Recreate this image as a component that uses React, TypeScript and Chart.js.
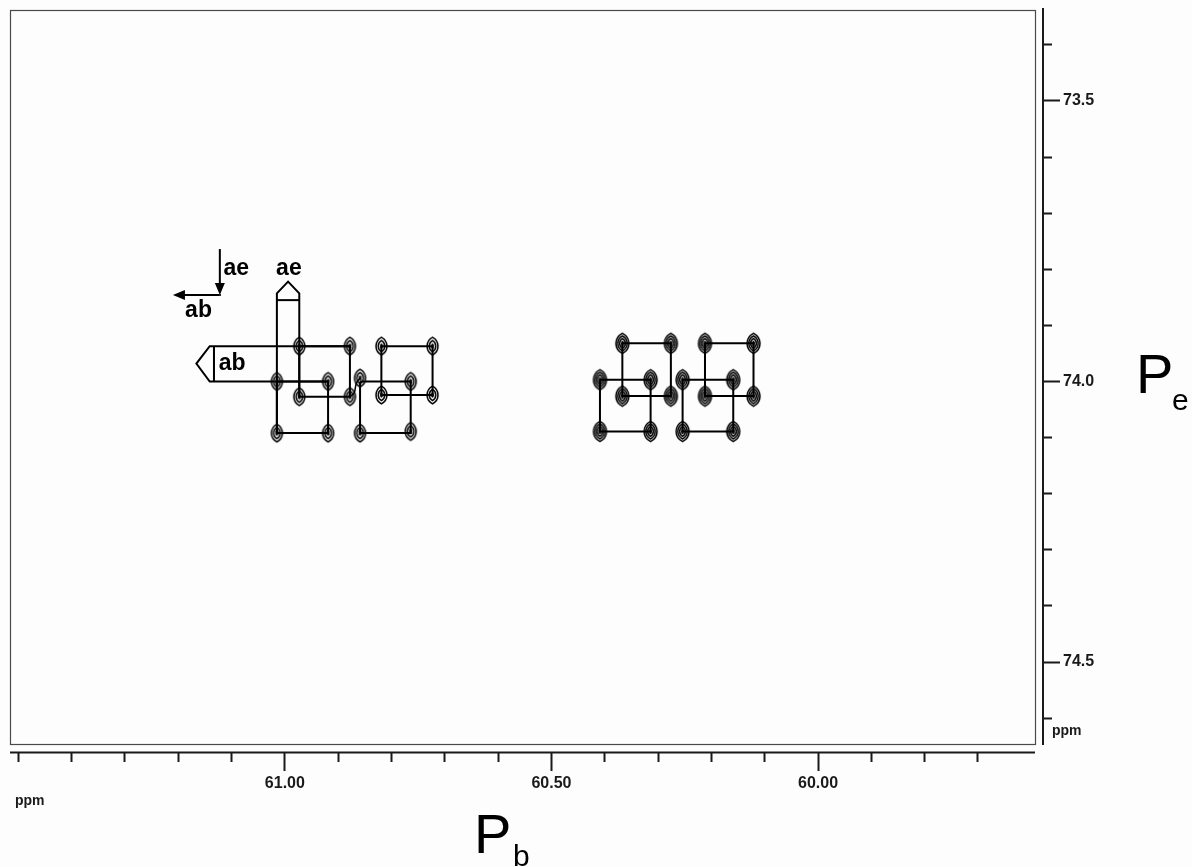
import React, { useEffect, useRef } from 'react';
import { Chart, registerables } from 'chart.js';

Chart.register(...registerables);

// ---- axis ranges and ticks (ppm) ----
const xRange = [59.593, 61.5156];
const yRange = [73.338, 74.646];
const xTicks = [61.5, 61.4, 61.3, 61.2, 61.1, 61.0, 60.9, 60.8, 60.7, 60.6, 60.5, 60.4, 60.3, 60.2, 60.1, 60.0, 59.9, 59.8, 59.7];
const xMajorTicks = [61.0, 60.5, 60.0];
const yTicks = [73.4, 73.5, 73.6, 73.7, 73.8, 73.9, 74.0, 74.1, 74.2, 74.3, 74.4, 74.5, 74.6];
const yMajorTicks = [73.5, 74.0, 74.5];

// ---- cross peaks: left cluster ----
const leftPeaksX = [60.973, 60.878, 60.819, 60.723, 61.015, 60.919, 60.859, 60.764, 60.973, 60.878, 60.819, 60.723, 61.015, 60.919, 60.859, 60.764];
const leftPeaksY = [73.937, 73.937, 73.937, 73.937, 74.000, 74.000, 73.994, 74.000, 74.027, 74.027, 74.024, 74.024, 74.092, 74.092, 74.092, 74.089];

// ---- cross peaks: right cluster ----
const rightPeaksX = [60.367, 60.276, 60.212, 60.121, 60.409, 60.314, 60.254, 60.159, 60.367, 60.276, 60.212, 60.121, 60.409, 60.314, 60.254, 60.159];
const rightPeaksY = [73.932, 73.932, 73.932, 73.932, 73.997, 73.997, 73.997, 73.997, 74.026, 74.026, 74.026, 74.026, 74.089, 74.089, 74.089, 74.089];

// ---- connectivity squares [x1, x2, y1, y2] ----
const leftSquares = [
  [61.015, 60.919, 74.000, 74.092],
  [60.973, 60.878, 73.937, 74.027],
  [60.859, 60.764, 74.000, 74.092],
  [60.819, 60.723, 73.937, 74.024],
];
const rightSquares = [
  [60.409, 60.314, 73.997, 74.089],
  [60.367, 60.276, 73.932, 74.026],
  [60.254, 60.159, 73.997, 74.089],
  [60.212, 60.121, 73.932, 74.026],
];

// ---- "ab" / "ae" marker boxes ----
const abBoxX = [60.878, 61.141, 61.166, 61.141, 60.919];
const abBoxY = [73.937, 73.937, 73.968, 74.000, 74.000];
const abBarX = [61.133, 61.133];
const abBarY = [73.937, 74.000];
const aeBoxX = [61.015, 61.015, 60.994, 60.973, 60.973];
const aeBoxY = [74.092, 73.843, 73.822, 73.843, 74.027];
const aeBarX = [61.015, 60.973];
const aeBarY = [73.855, 73.855];
const squiggleX = [60.878, 60.870, 60.866, 60.859];
const squiggleY = [74.027, 74.020, 74.003, 73.994];

// ---- annotation texts and arrows ----
const noteTexts = ['ae', 'ab', 'ae', 'ab'];
const noteX = [61.091, 61.162, 60.9925, 61.099];
const noteY = [73.810, 73.8845, 73.810, 73.9795];
const arrowDownX = [61.122, 61.122];
const arrowDownY = [73.764, 73.846];
const arrowLeftX = [61.122, 61.21];
const arrowLeftY = [73.846, 73.846];

const isIn = (v: number, arr: number[]) => arr.some((a) => Math.abs(a - v) < 1e-6);

function lemon(ctx: CanvasRenderingContext2D, a: number, b: number) {
  ctx.beginPath();
  ctx.moveTo(0, -b);
  ctx.bezierCurveTo(a * 1.35, -b * 0.55, a * 1.35, b * 0.55, 0, b);
  ctx.bezierCurveTo(-a * 1.35, b * 0.55, -a * 1.35, -b * 0.55, 0, -b);
  ctx.closePath();
}

function makePeak(rings: number[][], lw: number): HTMLCanvasElement {
  const c = document.createElement('canvas');
  const maxA = rings[0][0];
  const maxB = rings[0][1];
  c.width = Math.ceil(maxA * 2 + 6);
  c.height = Math.ceil(maxB * 2 + 6);
  const ctx = c.getContext('2d')!;
  ctx.translate(c.width / 2, c.height / 2);
  ctx.strokeStyle = '#000';
  ctx.lineWidth = lw;
  rings.forEach(([a, b]) => {
    lemon(ctx, a, b);
    ctx.stroke();
  });
  ctx.fillStyle = '#000';
  ctx.beginPath();
  ctx.ellipse(0, 0, 1.4, 2.8, 0, 0, Math.PI * 2);
  ctx.fill();
  return c;
}

function squarePath(s: number[]) {
  const [x1, x2, y1, y2] = s;
  return [
    { x: x1, y: y1 },
    { x: x2, y: y1 },
    { x: x2, y: y2 },
    { x: x1, y: y2 },
    { x: x1, y: y1 },
  ];
}

const zip = (xs: number[], ys: number[]) => xs.map((x, i) => ({ x, y: ys[i] }));

export default function App() {
  const ref = useRef<HTMLCanvasElement>(null);

  useEffect(() => {
    if (!ref.current) return;
    const leftPeak = makePeak([[5.4, 8.8], [3.2, 5.6]], 1.5);
    const rightPeak = makePeak([[6.4, 10.2], [4.6, 7.5], [2.8, 4.8]], 1.5);

    const lineDs = (data: { x: number; y: number }[], width = 2, tension = 0) => ({
      data,
      showLine: true,
      borderColor: '#000',
      borderWidth: width,
      pointRadius: 0,
      pointHoverRadius: 0,
      tension,
      fill: false,
    });

    const datasets: any[] = [
      {
        data: zip(leftPeaksX, leftPeaksY),
        pointStyle: leftPeak,
        pointRadius: 6,
        showLine: false,
      },
      {
        data: zip(rightPeaksX, rightPeaksY),
        pointStyle: rightPeak,
        pointRadius: 7,
        showLine: false,
      },
      ...leftSquares.map((s) => lineDs(squarePath(s))),
      ...rightSquares.map((s) => lineDs(squarePath(s))),
      lineDs(zip(abBoxX, abBoxY)),
      lineDs(zip(abBarX, abBarY)),
      lineDs(zip(aeBoxX, aeBoxY)),
      lineDs(zip(aeBarX, aeBarY)),
      lineDs(zip(squiggleX, squiggleY), 1.5, 0.4),
    ];

    const decor = {
      id: 'decor',
      beforeDraw(chart: any) {
        const { ctx, width, height } = chart;
        ctx.save();
        ctx.fillStyle = '#fdfdfd';
        ctx.fillRect(0, 0, width, height);
        ctx.restore();
      },
      afterDatasetsDraw(chart: any) {
        const { ctx, chartArea: ca, scales } = chart;
        const sx = scales.x;
        const sy = scales.y;
        ctx.save();
        // annotation texts
        ctx.fillStyle = '#000';
        ctx.font = 'bold 23px "Liberation Sans", Arial, sans-serif';
        ctx.textAlign = 'center';
        ctx.textBaseline = 'alphabetic';
        noteTexts.forEach((t, i) => {
          ctx.fillText(t, sx.getPixelForValue(noteX[i]), sy.getPixelForValue(noteY[i]));
        });
        // arrows
        ctx.strokeStyle = '#000';
        ctx.lineWidth = 2;
        const drawArrow = (xs: number[], ys: number[]) => {
          const x0 = sx.getPixelForValue(xs[0]);
          const y0 = sy.getPixelForValue(ys[0]);
          const x1 = sx.getPixelForValue(xs[1]);
          const y1 = sy.getPixelForValue(ys[1]);
          const ang = Math.atan2(y1 - y0, x1 - x0);
          const hl = 12;
          const hw = 5;
          ctx.beginPath();
          ctx.moveTo(x0, y0);
          ctx.lineTo(x1 - Math.cos(ang) * hl * 0.8, y1 - Math.sin(ang) * hl * 0.8);
          ctx.stroke();
          ctx.beginPath();
          ctx.moveTo(x1, y1);
          ctx.lineTo(x1 - Math.cos(ang) * hl - Math.sin(ang) * hw, y1 - Math.sin(ang) * hl + Math.cos(ang) * hw);
          ctx.lineTo(x1 - Math.cos(ang) * hl + Math.sin(ang) * hw, y1 - Math.sin(ang) * hl - Math.cos(ang) * hw);
          ctx.closePath();
          ctx.fillStyle = '#000';
          ctx.fill();
        };
        drawArrow(arrowDownX, arrowDownY);
        ctx.beginPath();
        ctx.moveTo(sx.getPixelForValue(arrowDownX[1]) + 1, sy.getPixelForValue(arrowDownY[1]));
        ctx.lineTo(sx.getPixelForValue(arrowLeftX[0]), sy.getPixelForValue(arrowLeftY[0]));
        ctx.stroke();
        drawArrow(arrowLeftX, arrowLeftY);

        // frame
        ctx.strokeStyle = '#4a4a4a';
        ctx.lineWidth = 1.2;
        ctx.strokeRect(ca.left + 0.5, ca.top + 0.5, ca.right - ca.left, ca.bottom - ca.top);
        // axis lines (offset from frame)
        ctx.strokeStyle = '#1a1a1a';
        ctx.lineWidth = 2;
        ctx.beginPath();
        ctx.moveTo(ca.right + 8, ca.top - 2);
        ctx.lineTo(ca.right + 8, ca.bottom + 1);
        ctx.moveTo(ca.left, ca.bottom + 8.5);
        ctx.lineTo(ca.right, ca.bottom + 8.5);
        ctx.stroke();

        // ppm labels
        ctx.fillStyle = '#1a1a1a';
        ctx.font = 'bold 14px "Liberation Sans", Arial, sans-serif';
        ctx.textAlign = 'left';
        ctx.fillText('ppm', ca.right + 17, ca.bottom - 9);
        ctx.fillText('ppm', ca.left + 5, ca.bottom + 61);

        // axis titles
        ctx.fillStyle = '#000';
        ctx.font = '56px "Liberation Sans", Arial, sans-serif';
        ctx.fillText('P', 474, 853);
        ctx.fillText('P', 1136, 393);
        ctx.font = '30px "Liberation Sans", Arial, sans-serif';
        ctx.fillText('b', 513, 866);
        ctx.fillText('e', 1172, 410);
        ctx.restore();
      },
    };

    const tickFont = { family: '"Liberation Sans", Arial, sans-serif', size: 16, weight: 'bold' as const };

    const chart = new Chart(ref.current, {
      type: 'scatter',
      data: { datasets },
      options: {
        animation: false,
        responsive: false,
        maintainAspectRatio: false,
        layout: { padding: { left: 10, top: 10, right: 0, bottom: 0 } },
        plugins: { legend: { display: false }, tooltip: { enabled: false } },
        events: [],
        scales: {
          x: {
            type: 'linear',
            position: 'bottom',
            reverse: true,
            min: xRange[0],
            max: xRange[1],
            afterBuildTicks: (s: any) => {
              s.ticks = xTicks.map((v) => ({ value: v }));
            },
            afterFit: (s: any) => {
              s.height = 123;
              s.paddingLeft = 0;
              s.paddingRight = 0;
            },
            border: { display: false },
            grid: {
              drawOnChartArea: false,
              drawTicks: true,
              tickLength: 27,
              tickWidth: 2,
              tickColor: '#1a1a1a',
              tickBorderDash: (c: any) =>
                c.tick && isIn(c.tick.value, xMajorTicks) ? [0, 9, 18, 100] : [0, 9, 9, 100],
            },
            ticks: {
              autoSkip: false,
              maxRotation: 0,
              padding: 3,
              color: '#1a1a1a',
              font: tickFont,
              callback: (v: any) => (isIn(Number(v), xMajorTicks) ? Number(v).toFixed(2) : ''),
            },
          },
          y: {
            type: 'linear',
            position: 'right',
            reverse: true,
            min: yRange[0],
            max: yRange[1],
            afterBuildTicks: (s: any) => {
              s.ticks = yTicks.map((v) => ({ value: v }));
            },
            afterFit: (s: any) => {
              s.width = 157;
              s.paddingTop = 0;
              s.paddingBottom = 0;
            },
            border: { display: false },
            grid: {
              drawOnChartArea: false,
              drawTicks: true,
              tickLength: 25,
              tickWidth: 2,
              tickColor: '#1a1a1a',
              tickBorderDash: (c: any) =>
                c.tick && isIn(c.tick.value, yMajorTicks) ? [0, 8, 17, 100] : [0, 8, 9, 100],
            },
            ticks: {
              autoSkip: false,
              padding: 3,
              color: '#1a1a1a',
              font: tickFont,
              callback: (v: any) => (isIn(Number(v), yMajorTicks) ? Number(v).toFixed(1) : ''),
            },
          },
        },
      },
      plugins: [decor],
    });
    return () => chart.destroy();
  }, []);

  return (
    <div style={{ position: 'fixed', left: 0, top: 0, width: 1192, height: 867, background: '#fdfdfd' }}>
      <canvas ref={ref} width={1192} height={867} style={{ display: 'block' }} />
    </div>
  );
}
